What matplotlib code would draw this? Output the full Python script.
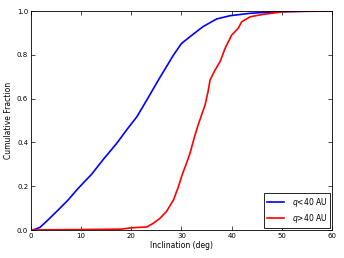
import matplotlib
matplotlib.use("Agg")
import matplotlib.pyplot as plt

blue_x = [0, 0.5, 1.8, 3.4, 5.4, 7.4, 9.4, 12.1, 14.4, 17.1, 19.1, 21.1, 23.1, 25.4, 26.4, 28.4, 30.0, 31.7, 34.3, 37.0, 39.7, 43.7, 49, 55, 60]
blue_y = [0, 0.001, 0.012, 0.046, 0.091, 0.137, 0.19, 0.255, 0.322, 0.396, 0.458, 0.517, 0.594, 0.685, 0.723, 0.799, 0.852, 0.883, 0.929, 0.964, 0.979, 0.99, 0.997, 0.999, 1.0]

red_x = [0, 3, 10, 18, 20, 23.1, 24.4, 25.7, 27.0, 28.4, 29.4, 30.0, 31.0, 31.7, 32.7, 33.4, 34.7, 35.3, 35.7, 36.7, 37.7, 38.7, 40.0, 41.3, 42.0, 43.7, 46.3, 50.3, 55, 60]
red_y = [0, 0.001, 0.002, 0.004, 0.01, 0.014, 0.031, 0.053, 0.084, 0.137, 0.198, 0.243, 0.305, 0.35, 0.434, 0.485, 0.571, 0.632, 0.685, 0.731, 0.769, 0.83, 0.89, 0.921, 0.951, 0.974, 0.985, 0.997, 1.0, 1.0]

xticks = [0, 10, 20, 30, 40, 50, 60]
yticks = [0.0, 0.2, 0.4, 0.6, 0.8, 1.0]

fig = plt.figure(figsize=(3.44, 2.58), dpi=100, facecolor="white")
ax = fig.add_axes([0.090, 0.1085, 0.875, 0.8485])
ax.plot(blue_x, blue_y, color="blue", lw=1.2, label=r"$q$<40 AU")
ax.plot(red_x, red_y, color="red", lw=1.2, label=r"$q$>40 AU")
ax.set_xlim(0, 60)
ax.set_ylim(0, 1.0)
ax.set_xticks(xticks)
ax.set_yticks(yticks)
ax.set_yticklabels([f"{v:.1f}" for v in yticks])
ax.tick_params(direction="in", top=True, right=True, labelsize=5, length=3, width=0.5, pad=2)
for s in ax.spines.values():
    s.set_linewidth(0.6)
ax.set_xlabel("Inclination (deg)", fontsize=5.5, labelpad=1.5)
ax.set_ylabel("Cumulative Fraction", fontsize=5.5, labelpad=3)
leg = ax.legend(loc="lower right", fontsize=5.5, fancybox=False, framealpha=1, edgecolor="black",
                borderpad=0.4, handlelength=2.2, handletextpad=1.0, labelspacing=0.4, borderaxespad=0.25)
leg.get_frame().set_linewidth(0.6)
fig.savefig("out.png", dpi=100, facecolor="white")
